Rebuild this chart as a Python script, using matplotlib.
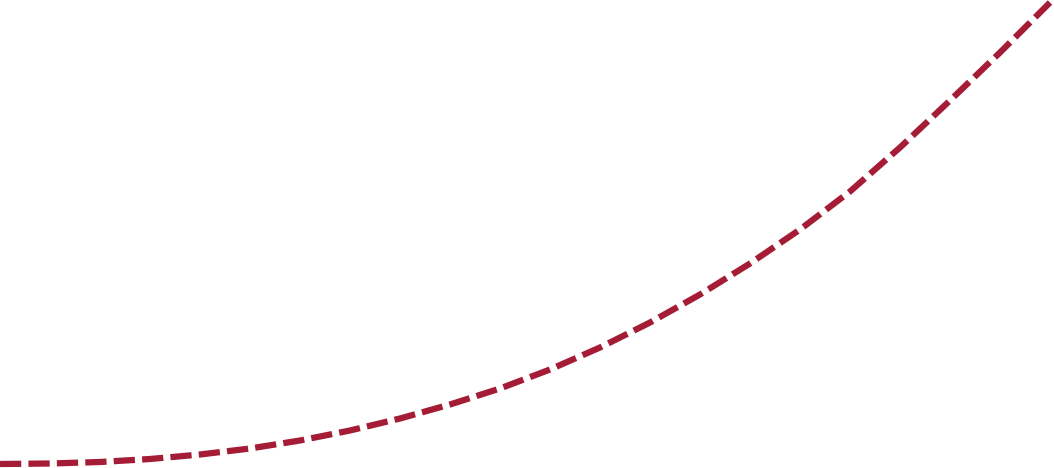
import matplotlib
matplotlib.use("Agg")
import matplotlib.pyplot as plt

# curve every 50 px (x, height above bottom edge)
xs = [0, 50, 100, 150, 200, 250, 300, 350, 400, 450, 500,
      550, 600, 650, 700, 750, 800, 850, 900, 950, 1000, 1050]
ys = [4, 4.5, 6, 9, 13.5, 19.5, 27.5, 37.5, 49.5, 63.5, 79.5,
      98.5, 120.5, 145.5, 173.5, 204.5, 238.5, 276.5, 320.5, 367.5, 415.5, 465.5]

fig = plt.figure(figsize=(10.54, 4.68), dpi=100)
ax = fig.add_axes([0, 0, 1, 1])
ax.plot(xs, ys, color="#a51c36", lw=4.5, dashes=(3.4, 1.15),
        solid_capstyle="butt", dash_capstyle="butt", solid_joinstyle="round")
ax.set_xlim(0, 1054)
ax.set_ylim(0, 468)
ax.axis("off")
fig.savefig("out.png", dpi=100, facecolor="white")
